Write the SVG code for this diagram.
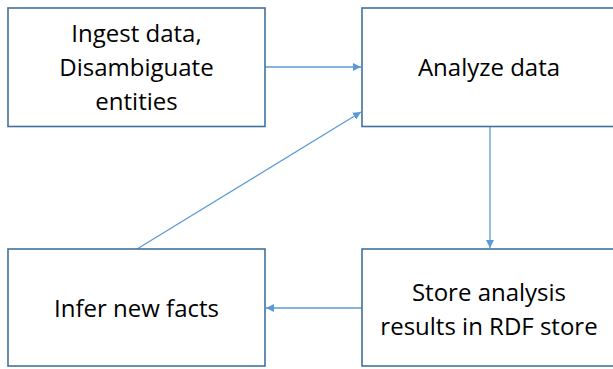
<svg xmlns="http://www.w3.org/2000/svg" width="613" height="369" viewBox="0 0 613 369">
  <style>
    .box { fill: #ffffff; stroke: #41719c; stroke-width: 1.6; }
    .lbl { font-family: "Open Sans", "Liberation Sans", sans-serif; font-size: 24px; fill: #000000; text-anchor: middle; }
    .conn { stroke: #5b9bd5; stroke-width: 1.3; fill: none; marker-end: url(#arrow); }
  </style>
  <defs>
    <marker id="arrow" viewBox="0 0 10 10" refX="10" refY="5" markerWidth="8" markerHeight="8" markerUnits="userSpaceOnUse" orient="auto">
      <path d="M0,0 L10,5 L0,10 z" fill="#5b9bd5"/>
    </marker>
  </defs>
  <rect width="613" height="369" fill="#ffffff"/>

  <g id="connectors">
    <line class="conn" x1="265" y1="67" x2="361" y2="67"/>
    <line class="conn" x1="490" y1="127" x2="490" y2="248"/>
    <line class="conn" x1="362" y1="308" x2="266" y2="308"/>
    <line class="conn" x1="137" y1="249" x2="361" y2="112"/>
  </g>

  <g id="ingest">
    <rect class="box" x="8" y="8" width="257" height="118.5"/>
    <text class="lbl" x="136.5" y="42">Ingest data,</text>
    <text class="lbl" x="136.5" y="76">Disambiguate</text>
    <text class="lbl" x="136.5" y="110">entities</text>
  </g>

  <g id="analyze">
    <rect class="box" x="362" y="8" width="260" height="118.5"/>
    <text class="lbl" x="489" y="76">Analyze data</text>
  </g>

  <g id="infer">
    <rect class="box" x="8" y="249" width="257" height="117"/>
    <text class="lbl" x="136.5" y="317">Infer new facts</text>
  </g>

  <g id="store">
    <rect class="box" x="362" y="249" width="260" height="117"/>
    <text class="lbl" x="489" y="301">Store analysis</text>
    <text class="lbl" x="489" y="335">results in RDF store</text>
  </g>
</svg>
